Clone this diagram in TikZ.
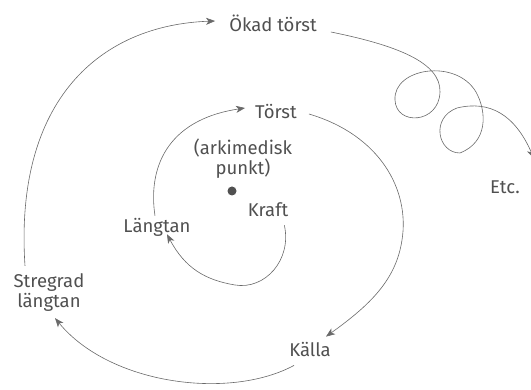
\documentclass[tikz,border=0pt]{standalone}
\usepackage{fontspec}
\setmainfont{Fira Sans}
\usetikzlibrary{arrows.meta,positioning}
\definecolor{spiralgray}{RGB}{105,105,105}
\definecolor{labelgray}{RGB}{80,80,80}

\begin{document}
\begin{tikzpicture}[x=1pt,y=-1pt,
  lbl/.style={text=labelgray,font=\fontsize{18.5}{20}\selectfont,align=center,inner sep=2pt},
  arc/.style={draw=spiralgray,line width=.6pt},
  tip/.style={arc,-{Stealth[length=9pt,width=7pt,inset=2.5pt]}}]
 \useasboundingbox (0,0) rectangle (531,390);
 % labels, pixel positions (y downwards)
 \node[lbl] (okad) at (273,23) {Ökad törst};
 \node[lbl] (torst) at (276,112) {Törst};
 \node[lbl] (ark) at (243,159) {(arkimedisk\\punkt)};
 \node[circle,fill=labelgray,inner sep=0,minimum size=9pt] (point) at (232,191) {};
 \node[lbl] (kraft) at (268,210) {Kraft};
 \node[lbl] (langtan) at (157,227) {Längtan};
 \node[lbl] (kalla) at (310,350) {Källa};
 \node[lbl] (stregrad) at (49,293) {Stregrad\\längtan};
 \node[lbl] (etc) at (505,187) {Etc.};
 % inner turn
 \draw[tip] ([shift={(-6,6)}]kraft.south east) .. controls (292,260) and (265,290) .. (235,285)
   .. controls (205,280) and (185,268) .. ([shift={(10,-4)}]langtan.south);
 \draw[tip] ([shift={(-2,0)}]langtan.north) .. controls (148,170) and (165,120) .. ([shift={(-8,-4)}]torst.west);
 % second turn
 \draw[tip] ([shift={(10,2)}]torst.east) .. controls (380,135) and (410,190) .. (402,240)
   .. controls (396,280) and (370,305) .. ([shift={(16,-4)}]kalla.north);
 \draw[tip] ([shift={(-16,6)}]kalla.south) .. controls (230,400) and (110,385) .. ([shift={(6,4)}]stregrad.south);
 \draw[tip] ([shift={(-24,-6)}]stregrad.north) .. controls (14,100) and (100,25) .. ([shift={(-12,-2)}]okad.west);
 % loops out to Etc.
 \draw[tip] ([shift={(12,9)}]okad.east) .. controls (395,45) and (441,62) .. (440,92)
   .. controls (439,124) and (396,126) .. (395,100)
   .. controls (393,68) and (456,58) .. (476,92)
   .. controls (487,112) and (488,142) .. (460,153)
   .. controls (438,153) and (430,118) .. (457,108)
   .. controls (490,100) and (515,115) .. ([shift={(12,-20)}]etc.north east);
\end{tikzpicture}
\end{document}
